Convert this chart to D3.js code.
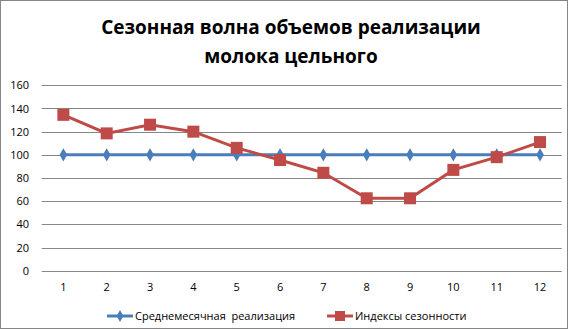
<!DOCTYPE html>
<html><head><meta charset="utf-8">
<script src="https://cdn.jsdelivr.net/npm/d3@7"></script>
<style>html,body{margin:0;padding:0;background:#fff}svg{display:block}</style>
</head><body>
<script>
const months = ["1","2","3","4","5","6","7","8","9","10","11","12"];
const avgSales = [100,100,100,100,100,100,100,100,100,100,100,100];
const seasonIdx = [134.5,118.5,126,120,106,95.5,84.5,62.5,62.5,87,98,111];
const yTicks = [0,20,40,60,80,100,120,140,160];
const seriesNames = ["Среднемесячная  реализация","Индексы сезонности"];
const colors = ["#4a7ebb","#be4b48"];
const W=568,H=329;
const font="'Open Sans', 'Liberation Sans', sans-serif";
const svg=d3.select("body").append("svg").attr("width",W).attr("height",H);
svg.append("rect").attr("x",0.5).attr("y",0.5).attr("width",W-1).attr("height",H-1).attr("fill","#fff").attr("stroke","#868686");
const x=d3.scaleBand().domain(months).range([41.7,561.7]);
const y=d3.scaleLinear().domain([0,160]).range([270.7,85.3]);
const g=svg.append("g");
g.selectAll("line.grid").data(yTicks).join("line").attr("class","grid")
 .attr("x1",41.7).attr("x2",561.7).attr("y1",d=>Math.round(y(d))+0.5).attr("y2",d=>Math.round(y(d))+0.5)
 .attr("stroke","#868686").attr("stroke-width",1);
const yAxis=d3.axisLeft(y).tickValues(yTicks).tickSize(0).tickPadding(0);
svg.append("g").attr("transform","translate(29,0)").call(yAxis).call(s=>s.select(".domain").remove())
 .selectAll("text").attr("font-family",font).attr("font-size",11).attr("fill","#000");
const xAxis=d3.axisBottom(x).tickSize(0).tickPadding(0);
svg.append("g").attr("transform","translate(0,283)").call(xAxis).call(s=>s.select(".domain").remove())
 .selectAll("text").attr("font-family",font).attr("font-size",11).attr("fill","#000");
const cx=d=>x(d)+x.bandwidth()/2;
const line=d3.line().x((d,i)=>cx(months[i])).y(d=>y(d));
g.append("path").datum(avgSales).attr("d",line).attr("fill","none").attr("stroke",colors[0]).attr("stroke-width",3);
g.selectAll("path.dia").data(avgSales).join("path").attr("class","dia")
 .attr("d",d3.symbol(d3.symbolDiamond,50)).attr("transform",(d,i)=>`translate(${cx(months[i])},${y(d)})`).attr("fill",colors[0]);
g.append("path").datum(seasonIdx).attr("d",line).attr("fill","none").attr("stroke",colors[1]).attr("stroke-width",3);
g.selectAll("rect.sq").data(seasonIdx).join("rect").attr("class","sq")
 .attr("x",(d,i)=>cx(months[i])-6).attr("y",d=>y(d)-6).attr("width",12).attr("height",12).attr("fill",colors[1]);
// title
const t=svg.append("text").attr("text-anchor","middle").attr("font-family",font).attr("font-weight","bold").attr("font-size",19).attr("fill","#000");
t.append("tspan").attr("x",291).attr("y",34).text("Сезонная волна объемов реализации");
t.append("tspan").attr("x",291).attr("y",63).text("молока цельного");
// legend
const lg=svg.append("g");
const lx=[107,327];
seriesNames.forEach((n,i)=>{
 lg.append("line").attr("x1",lx[i]).attr("x2",lx[i]+26).attr("y1",316).attr("y2",316).attr("stroke",colors[i]).attr("stroke-width",3);
 if(i===0) lg.append("path").attr("d",d3.symbol(d3.symbolDiamond,40)).attr("transform",`translate(${lx[i]+13},316)`).attr("fill",colors[i]);
 else lg.append("rect").attr("x",lx[i]+8).attr("y",311).attr("width",10).attr("height",10).attr("fill",colors[i]);
 lg.append("text").attr("x",lx[i]+28).attr("y",320).attr("font-family",font).attr("font-size",11).attr("fill","#000").style("white-space","pre").text(n);
});
</script>
</body></html>
